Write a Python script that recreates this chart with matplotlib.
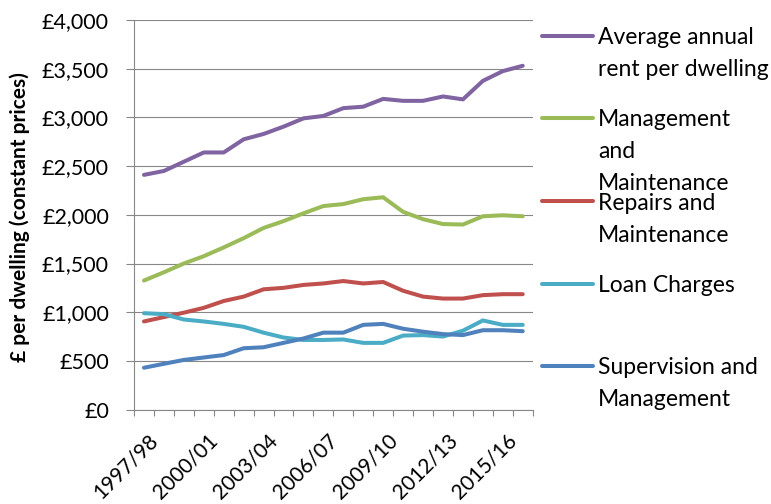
import matplotlib.pyplot as plt
import numpy as np
from matplotlib.lines import Line2D
from matplotlib.ticker import FuncFormatter
from matplotlib.transforms import ScaledTranslation

years = ['1997/98', '1998/99', '1999/00', '2000/01', '2001/02', '2002/03',
         '2003/04', '2004/05', '2005/06', '2006/07', '2007/08', '2008/09',
         '2009/10', '2010/11', '2011/12', '2012/13', '2013/14', '2014/15',
         '2015/16', '2016/17']

rent = [2410, 2450, 2545, 2640, 2640, 2775, 2830, 2905, 2990, 3015,
        3095, 3110, 3190, 3170, 3170, 3215, 3185, 3375, 3475, 3530]
mgmt_maint = [1325, 1410, 1500, 1575, 1665, 1760, 1865, 1935, 2015, 2090,
              2110, 2160, 2180, 2030, 1955, 1905, 1900, 1985, 1995, 1985]
repairs = [905, 950, 995, 1045, 1115, 1160, 1235, 1250, 1280, 1295,
           1320, 1295, 1310, 1220, 1160, 1140, 1140, 1175, 1185, 1185]
loan = [990, 980, 925, 905, 880, 850, 790, 740, 715, 715,
        720, 685, 685, 760, 765, 750, 810, 915, 870, 870]
supervision = [430, 470, 510, 535, 560, 630, 640, 685, 730, 790,
               790, 870, 880, 830, 800, 775, 765, 815, 815, 805]

series = [rent, mgmt_maint, repairs, loan, supervision]
names = ['Average annual\nrent per dwelling', 'Management\nand\nMaintenance',
         'Repairs and\nMaintenance', 'Loan Charges', 'Supervision and\nManagement']
colors = ['#8064A2', '#9BBB59', '#C0504D', '#4BACC6', '#4F81BD']

plt.rcParams['font.family'] = ['Lato', 'DejaVu Sans']
W, H = 771, 504
fig = plt.figure(figsize=(W / 100, H / 100), dpi=100)
ax = fig.add_axes([134 / W, 1 - 409.6 / H, (532.7 - 134) / W, (409.6 - 20) / H])

x = np.arange(len(years))
for vals, c in zip(series, colors):
    ax.plot(x, vals, color=c, linewidth=2.9, solid_capstyle='round')

grid_c = '#878787'
ax.set_xlim(-0.5, len(years) - 0.5)
ax.set_ylim(0, 4000)
ax.set_yticks(np.arange(0, 4001, 500))
ax.yaxis.set_major_formatter(FuncFormatter(lambda v, p: '£{:,.0f}'.format(v)))
ax.grid(axis='y', color=grid_c, linewidth=0.8)
ax.set_axisbelow(True)
for s in ['top', 'right']:
    ax.spines[s].set_visible(False)
for s in ['left', 'bottom']:
    ax.spines[s].set_color(grid_c)
    ax.spines[s].set_linewidth(0.8)

ax.tick_params(axis='y', length=6, width=0.8, color=grid_c, pad=12, labelsize=15.5)
# category boundaries get the tick marks, labels every third year
ax.set_xticks(np.arange(-0.5, len(years)), minor=True)
ax.tick_params(axis='x', which='minor', length=4.5, width=0.8, color=grid_c)
ax.set_xticks(x[::3])
ax.set_xticklabels(years[::3], rotation=45, ha='right', rotation_mode='anchor')
ax.tick_params(axis='x', which='major', length=0, pad=15, labelsize=15)
shift = ScaledTranslation(0.04, 0, fig.dpi_scale_trans)
for lbl in ax.get_xticklabels():
    lbl.set_transform(lbl.get_transform() + shift)

fig.text(20 / W, 1 - 217 / H, '£ per dwelling (constant prices)', rotation=90,
         ha='center', va='center', fontsize=15, fontweight='bold')

# legend drawn by hand, one block per series
entry_y = [36, 118, 201, 284, 366]
for name, c, y0 in zip(names, colors, entry_y):
    fig.add_artist(Line2D([542 / W, 593 / W], [1 - y0 / H, 1 - y0 / H],
                          color=c, linewidth=2.9, solid_capstyle='round'))
    for i, line in enumerate(name.split('\n')):
        fig.text(598 / W, 1 - (y0 + i * 32) / H, line, ha='left',
                 va='center_baseline', fontsize=16.5)

fig.savefig('out.png', dpi=100)
